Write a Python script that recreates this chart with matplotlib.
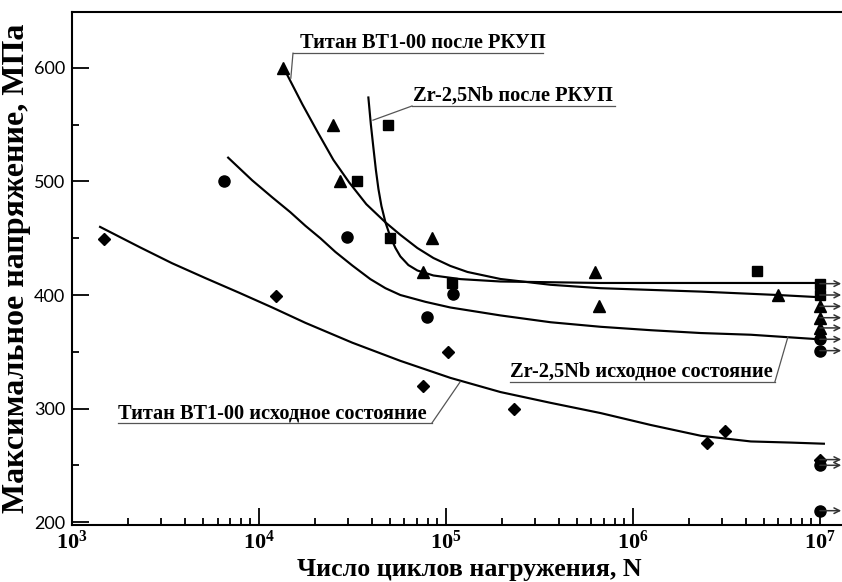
import numpy as np
import matplotlib.pyplot as plt
from matplotlib.ticker import FixedLocator, LogLocator, NullFormatter, MultipleLocator

# --- data ---
# Титан ВТ1-00 исходное состояние (diamonds)
ti0_N = [1.48e3, 1.23e4, 7.5e4, 1.03e5, 2.3e5, 2.5e6, 3.1e6]
ti0_S = [449, 399, 320, 350, 300, 270, 280]
ti0_run_S = [255]
# Zr-2,5Nb исходное состояние (circles)
zr0_N = [6.5e3, 2.96e4, 7.9e4, 1.09e5]
zr0_S = [500, 451, 381, 401]
zr0_run_S = [361, 351, 250, 210]
# Титан ВТ1-00 после РКУП (triangles)
ti1_N = [1.34e4, 2.49e4, 2.71e4, 7.53e4, 8.41e4, 6.3e5, 6.6e5, 6.0e6]
ti1_S = [600, 550, 500, 420, 450, 420, 390, 400]
ti1_run_S = [390, 380, 371]
# Zr-2,5Nb после РКУП (squares)
zr1_N = [3.34e4, 4.9e4, 5.03e4, 1.077e5, 4.6e6]
zr1_S = [500, 550, 450, 411, 421]
zr1_run_S = [410, 400]
run_N = 1e7

# curves as drawn in the picture
ti0_fit_N = [1413, 2311, 3428, 5152, 7834, 11780, 17700, 31550, 57020, 105600,
             195800, 363000, 671500, 1.245e6, 2.307e6, 4.27e6, 7.0e6, 1.05e7]
ti0_fit_S = [460, 442, 428, 415, 402, 389, 375.5, 358, 342, 327,
             314.5, 305, 296, 285.5, 276, 271, 270, 269]
zr0_fit_N = [6840, 9200, 11780, 14700, 17700, 21300, 25600, 31550, 39400, 47460,
             57020, 77600, 105600, 195800, 363000, 671500, 1.245e6, 2.307e6, 4.27e6, 9.9e6]
zr0_fit_S = [521, 501, 486, 473, 461, 450, 438, 426, 414, 406,
             400, 394, 389, 382, 376, 372, 369, 366.5, 365, 361]
ti1_fit_N = [14150, 17060, 20510, 25000, 30420, 37500, 47460, 57020, 70310, 85660,
             105600, 130300, 195800, 363000, 671500, 2.307e6, 5.96e6, 1.01e7]
ti1_fit_S = [594, 568, 544, 519, 499, 480, 464, 453, 441.4, 432.6,
             425.6, 420.3, 414.1, 409, 406, 403, 400, 398]
zr1_fit_N = [38460, 39630, 40930, 42200, 43530, 45170, 47460, 50470, 53680, 57020,
             62940, 70310, 85660, 119600, 195800, 671500, 1.01e7]
zr1_fit_S = [574, 550.7, 529.5, 510, 493.4, 478.4, 464, 451, 441.4, 434,
             426.4, 421.6, 417.2, 414, 411.9, 410.6, 410.6]

x_ticks = [1e3, 1e4, 1e5, 1e6, 1e7]
x_tick_labels = [r'$\mathbf{10^{3}}$', r'$\mathbf{10^{4}}$', r'$\mathbf{10^{5}}$',
                 r'$\mathbf{10^{6}}$', r'$\mathbf{10^{7}}$']
y_ticks = [200, 300, 400, 500, 600]

plt.rcParams['font.family'] = ['Liberation Serif', 'DejaVu Serif']
plt.rcParams['mathtext.fontset'] = 'custom'
plt.rcParams['mathtext.bf'] = 'Liberation Serif:bold'
plt.rcParams['mathtext.rm'] = 'Liberation Serif:bold'

fig = plt.figure(figsize=(8.42, 5.82), dpi=100)
ax = fig.add_axes([72 / 842, 1 - 525 / 582, 1 - 72 / 842, (525 - 12) / 582])

lw = 1.55
for fx, fy in [(ti0_fit_N, ti0_fit_S), (zr0_fit_N, zr0_fit_S),
               (ti1_fit_N, ti1_fit_S), (zr1_fit_N, zr1_fit_S)]:
    ax.plot(fx, fy, color='black', lw=lw, solid_joinstyle='round')

ax.plot(ti0_N, ti0_S, 'D', color='black', ms=6.5, ls='none')
ax.plot(zr0_N, zr0_S, 'o', color='black', ms=8, ls='none')
ax.plot(ti1_N, ti1_S, '^', color='black', ms=8.5, ls='none')
ax.plot(zr1_N, zr1_S, 's', color='black', ms=6.5, ls='none')

# run-outs at 10^7 with arrows
for s_list, mk, ms in [(zr1_run_S, 's', 6.5), (ti1_run_S, '^', 8.5),
                       (zr0_run_S, 'o', 8), (ti0_run_S, 'D', 6.5)]:
    for s in s_list:
        ax.annotate('', xy=(1.3e7, s), xytext=(run_N, s),
                    arrowprops=dict(arrowstyle='->', lw=1.1, color='#333333',
                                    shrinkA=0, shrinkB=0))
        ax.plot([run_N], [s], mk, color='black', ms=ms)


def label(text, xt, x0, x1, yu, xp, yp):
    ax.text(xt, yu + 4.4, text, fontsize=14.7, fontweight='bold', ha='left', va='baseline')
    ax.plot([x0, x1], [yu, yu], color='#555555', lw=0.9)
    ax.plot([x1 if xp > x1 else x0, xp], [yu, yp], color='#555555', lw=0.9)


label('Титан ВТ1-00 после РКУП', 1.663e4, 1.52e4, 3.31e5, 613, 1.48e4, 591)
label('Zr-2,5Nb после РКУП', 6.7e4, 6.58e4, 8.0e5, 566.5, 4.07e4, 554)
label('Zr-2,5Nb исходное состояние', 2.2e5, 2.2e5, 5.74e6, 323.4, 6.74e6, 363)
label('Титан ВТ1-00 исходное состояние', 1.76e3, 1.76e3, 8.41e4, 287.2, 1.19e5, 323.4)

ax.set_xscale('log')
ax.set_xlim(1e3, 10 ** 7.118)
ax.set_ylim(197.4, 649.3)

ax.xaxis.set_major_locator(FixedLocator(x_ticks))
ax.set_xticklabels(x_tick_labels)
ax.xaxis.set_minor_locator(LogLocator(base=10, subs=np.arange(2, 10)))
ax.xaxis.set_minor_formatter(NullFormatter())
ax.set_yticks(y_ticks)
ax.yaxis.set_minor_locator(MultipleLocator(50))

ax.tick_params(which='both', direction='in', width=1.3)
ax.tick_params(which='major', length=12)
ax.tick_params(which='minor', length=5)
ax.tick_params(axis='x', labelsize=16, pad=4)
ax.tick_params(axis='y', labelsize=13, pad=5)
for t in ax.get_yticklabels():
    t.set_fontfamily('Lato')

ax.spines['right'].set_visible(False)
for sp in ['left', 'top', 'bottom']:
    ax.spines[sp].set_linewidth(1.5)

ax.set_xlabel('Число циклов нагружения, N', fontsize=18.7, fontweight='bold')
ax.xaxis.set_label_coords((469 - 72) / 770, -0.065)
ax.set_ylabel('Максимальное напряжение, МПа', fontsize=23, fontweight='bold', labelpad=2)

fig.savefig('out.png', dpi=100)
